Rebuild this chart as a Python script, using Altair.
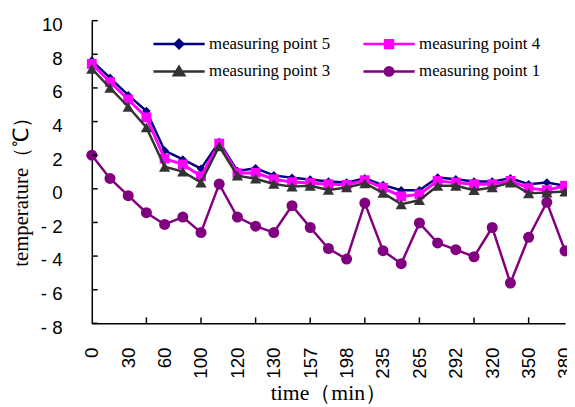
import altair as alt
import pandas as pd

# x positions are the measurement order (0..26); every other one is labelled
shown_labels = ["0", "30", "60", "100", "120", "130", "157", "198",
                "235", "265", "292", "320", "350", "380"]
x_tick_idx = [3, 6, 9, 12, 15, 18, 21, 24]
y_ticks = [-8, -6, -4, -2, 0, 2, 4, 6, 8, 10]

p5 = [7.63, 6.6, 5.57, 4.63, 2.28, 1.75, 1.2, 2.78, 1.06, 1.22, 0.8, 0.66, 0.55, 0.43,
      0.37, 0.63, 0.22, -0.08, -0.08, 0.67, 0.57, 0.43, 0.43, 0.63, 0.27, 0.37, 0.18]
p4 = [7.43, 6.35, 5.31, 4.25, 1.8, 1.45, 0.75, 2.69, 0.93, 0.96, 0.57, 0.4, 0.35, 0.27,
      0.24, 0.51, 0.06, -0.45, -0.33, 0.47, 0.37, 0.27, 0.27, 0.47, 0.04, -0.08, 0.18]
p3 = [7.14, 6.0, 4.88, 3.65, 1.31, 1.02, 0.37, 2.53, 0.78, 0.6, 0.29, 0.13, 0.18, -0.07,
      0.08, 0.33, -0.24, -0.92, -0.68, 0.18, 0.18, -0.08, 0.08, 0.37, -0.27, -0.22, -0.16]
p1 = [2.0, 0.62, -0.41, -1.42, -2.12, -1.68, -2.6, 0.28, -1.68, -2.22, -2.6, -1.0, -2.3, -3.55,
      -4.18, -0.85, -3.68, -4.45, -2.03, -3.22, -3.62, -4.04, -2.3, -5.6, -2.88, -0.8, -3.69]

series_names = ["measuring point 5", "measuring point 4", "measuring point 3", "measuring point 1"]
series_values = [p5, p4, p3, p1]
series_colors = ["#000080", "#FF00FF", "#333333", "#800080"]
series_shapes = ["diamond", "square", "triangle-up", "circle"]
series_sizes = [75, 100, 130, 125]
series_widths = [2.5, 3, 2.5, 2.5]
legend_paths = [
    "M-5.2,0H5.2M0,-0.85L0.85,0L0,0.85L-0.85,0Z",
    "M-5.2,0H5.2M-0.8,-0.8H0.8V0.8H-0.8Z",
    "M-5.2,0H5.2M0,-0.95L1.05,0.8H-1.05Z",
    "M-5.2,0H5.2M0.85,0A0.85,0.85,0,1,1,-0.85,0A0.85,0.85,0,1,1,0.85,0Z",
]

rows = []
for name, vals in zip(series_names, series_values):
    for i, v in enumerate(vals):
        rows.append({"idx": i, "value": v, "series": name})
df = pd.DataFrame(rows)

label_array = "[" + ",".join("'%s'" % s for s in shown_labels) + "]"

x_axis = alt.Axis(
    values=list(range(0, 27, 2)),
    labelExpr=label_array + "[round(datum.value / 2)]",
    labelAngle=-90, labelAlign="right", labelBaseline="middle",
    labelPadding=24, tickSize=0, grid=False,
    labelFont="Liberation Sans", labelFontSize=19, labelColor="black",
    domainColor="black", domainWidth=1.5,
    title="time（min）", titleFont="Liberation Serif", titleFontSize=22,
    titleFontWeight="normal", titleColor="black",
    titleX=240, titleY=70, titleAlign="center", titleBaseline="middle",
)
y_axis = alt.Axis(
    values=y_ticks,
    labelExpr="datum.value < 0 ? '- ' + abs(datum.value) : '' + datum.value",
    tickSize=0, labelPadding=30, labelOffset=4, grid=False,
    labelFont="Liberation Sans", labelFontSize=19, labelColor="black",
    domainColor="black", domainWidth=1.5,
    title="temperature（℃）", titleFont="Liberation Serif", titleFontSize=21,
    titleFontWeight="normal", titleColor="black", titleAngle=270,
    titleX=-71, titleY=168, titleAlign="center", titleBaseline="middle",
)
x_scale = alt.Scale(domain=[0, 26], nice=False, zero=False)
y_scale = alt.Scale(domain=[-8, 10], nice=False, zero=False)

x_enc = alt.X("idx:Q", scale=x_scale, axis=x_axis)
y_enc = alt.Y("value:Q", scale=y_scale, axis=y_axis)

base = alt.Chart(df).encode(x=x_enc, y=y_enc)

layers = []
draw_order = [3, 0, 1, 2]
for k in draw_order:
    name = series_names[k]
    sub = base.transform_filter(alt.datum.series == name)
    layers.append(sub.mark_line(color=series_colors[k], strokeWidth=series_widths[k]))
    layers.append(sub.mark_point(shape=series_shapes[k], filled=True, opacity=1,
                                 color=series_colors[k], size=series_sizes[k]))

# inward tick marks
ytick_df = pd.DataFrame({"value": y_ticks})
layers.append(
    alt.Chart(ytick_df).mark_rule(color="black", strokeWidth=1.5).encode(
        y=alt.Y("value:Q", scale=y_scale, axis=y_axis), x=alt.value(0), x2=alt.value(6)
    )
)
xtick_df = pd.DataFrame({"idx": x_tick_idx})
layers.append(
    alt.Chart(xtick_df).mark_rule(color="black", strokeWidth=1.5).encode(
        x=alt.X("idx:Q", scale=x_scale, axis=x_axis), y=alt.value(301), y2=alt.value(307)
    )
)

legend = alt.Legend(
    title=None, orient="none", legendX=80, legendY=15, columns=2, direction="horizontal",
    columnPadding=28, rowPadding=8, padding=0,
    labelFont="Liberation Serif", labelFontSize=17, labelColor="black",
    labelOffset=22, symbolSize=100, symbolStrokeWidth=2.5,
)
leg_df = pd.DataFrame({"series": series_names})
layers.append(
    alt.Chart(leg_df).mark_point(filled=True, opacity=1, size=100, strokeWidth=2.5, clip=True).encode(
        x=alt.value(-500), y=alt.value(-500),
        fill=alt.Fill("series:N", scale=alt.Scale(domain=series_names, range=series_colors), legend=legend),
        stroke=alt.Stroke("series:N", scale=alt.Scale(domain=series_names, range=series_colors), legend=legend),
        shape=alt.Shape("series:N", scale=alt.Scale(domain=series_names, range=legend_paths), legend=legend),
    )
)

chart = alt.layer(*layers).properties(
    width=480, height=307,
    autosize=alt.AutoSizeParams(type="none"),
    padding={"left": 85, "top": 10, "right": 2, "bottom": 82},
    background="white",
).configure_view(stroke=None)

chart.save("out.html", embed_options={"renderer": "svg", "actions": False})
